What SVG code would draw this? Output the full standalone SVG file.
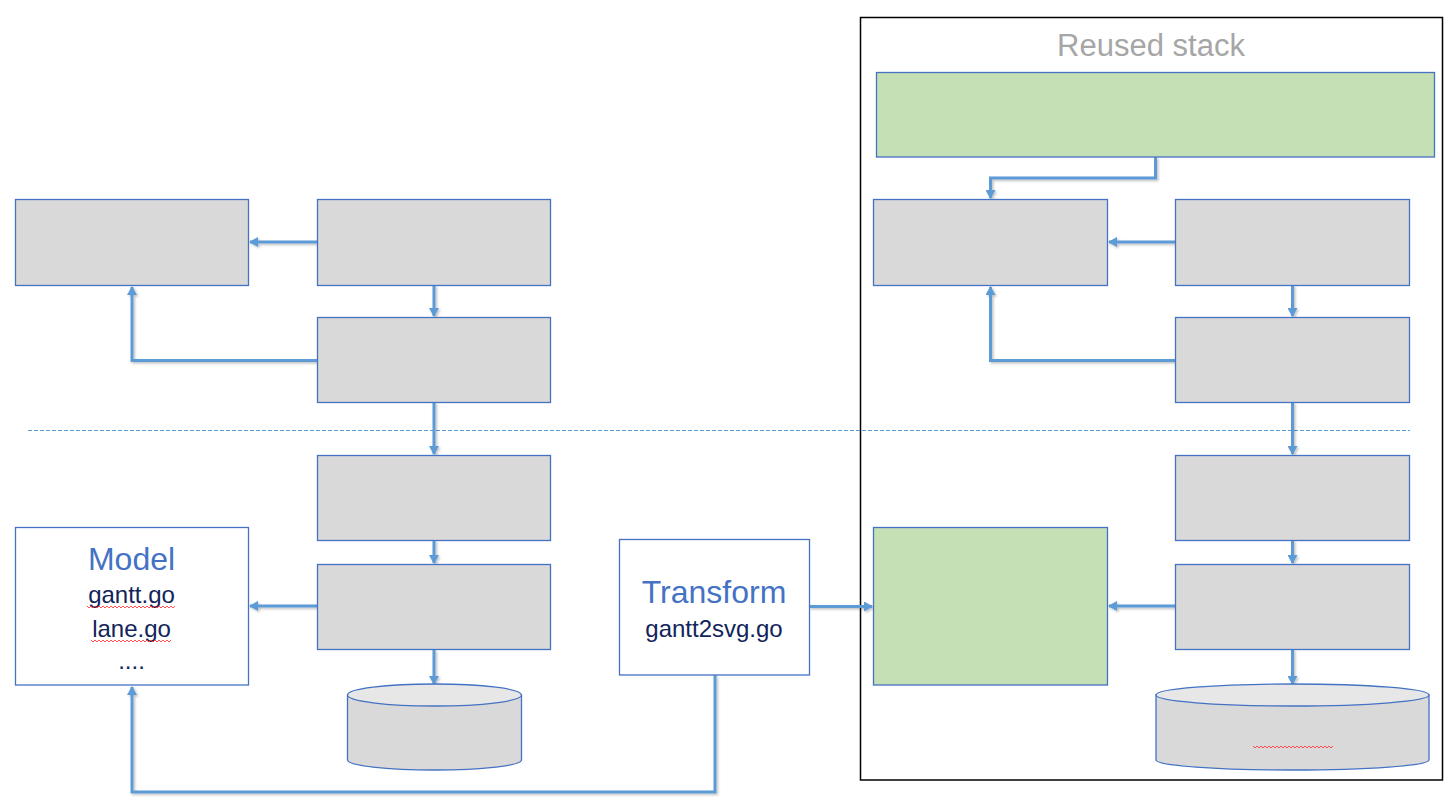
<svg xmlns="http://www.w3.org/2000/svg" width="1452" height="801" viewBox="0 0 1452 801">
<defs>
<style>
.box{fill:#d9d9d9;stroke:#4472c4;stroke-width:1.3}
.green{fill:#c5e0b4;stroke:#4472c4;stroke-width:1.3}
.white{fill:#ffffff;stroke:#4472c4;stroke-width:1.3}
.conn{fill:none;stroke:#5b9bd5;stroke-width:3;marker-end:url(#ah)}
.line{fill:none;stroke:#5b9bd5;stroke-width:3}
.title{font-family:"Liberation Sans",Arial,sans-serif;fill:#4472c4;text-anchor:middle}
.file{font-family:"Liberation Sans",Arial,sans-serif;fill:#12245a;text-anchor:middle;font-size:24px}
.squig{fill:none;stroke:#ff3b3b;stroke-width:0.9}
</style>
<marker id="ah" markerWidth="10" markerHeight="10" refX="8" refY="5" orient="auto" markerUnits="userSpaceOnUse">
<path d="M0,0 L9,5 L0,10 Z" fill="#5b9bd5"/>
</marker>
<filter id="sh" x="-5%" y="-5%" width="110%" height="110%">
<feDropShadow dx="1.5" dy="1.5" stdDeviation="1.2" flood-color="#000" flood-opacity="0.25"/>
</filter>
</defs>
<rect width="1452" height="801" fill="#ffffff"/>

<g id="reused-frame">
<rect x="860.5" y="17.5" width="582" height="762.5" fill="none" stroke="#000" stroke-width="1.5"/>
<text x="1151" y="56" font-family="Liberation Sans,Arial,sans-serif" font-size="31" fill="#a6a6a6" text-anchor="middle">Reused stack</text>
</g>

<line x1="28" y1="430.5" x2="1410" y2="430.5" stroke="#5b9bd5" stroke-width="1" stroke-dasharray="4 2"/>

<g id="connectors" filter="url(#sh)">
<path class="conn" d="M317,242 L250,242"/>
<path class="conn" d="M434,285 L434,316"/>
<path class="conn" d="M317,360.5 L132,360.5 L132,287"/>
<path class="conn" d="M434,402 L434,454"/>
<path class="conn" d="M434,540 L434,563"/>
<path class="conn" d="M317,606 L250,606"/>
<path class="conn" d="M434,650 L434,684"/>
<path class="conn" d="M715,675 L715,792 L132,792 L132,687"/>
<path class="conn" d="M809,606.5 L872,606.5"/>
<path class="conn" d="M1155.5,157 L1155.5,178 L990.5,178 L990.5,198"/>
<path class="conn" d="M1175,242 L1109,242"/>
<path class="conn" d="M1292.5,285 L1292.5,316"/>
<path class="conn" d="M1175,360.5 L990.5,360.5 L990.5,287"/>
<path class="conn" d="M1292.5,402 L1292.5,454"/>
<path class="conn" d="M1292.5,540 L1292.5,563"/>
<path class="conn" d="M1175,606 L1109,606"/>
<path class="conn" d="M1292.5,649 L1292.5,684"/>
</g>

<g id="left-a"><rect class="box" x="15.5" y="199.5" width="233" height="86"/></g>
<g id="left-b"><rect class="box" x="317.5" y="199.5" width="233" height="86"/></g>
<g id="left-c"><rect class="box" x="317.5" y="317.5" width="233" height="85"/></g>
<g id="left-d"><rect class="box" x="317.5" y="455.5" width="233" height="85"/></g>
<g id="left-e"><rect class="box" x="317.5" y="564.5" width="233" height="85"/></g>

<g id="left-db">
<path d="M347.5,695 L347.5,760 A87,10 0 0 0 521.5,760 L521.5,695 Z" fill="#d9d9d9" stroke="#4472c4" stroke-width="1.3"/>
<ellipse cx="434.5" cy="695" rx="87" ry="11" fill="#e7e7e7" stroke="#4472c4" stroke-width="1.3"/>
</g>

<g id="model">
<rect class="white" x="15.5" y="527.5" width="233" height="157.5"/>
<text class="title" x="131.5" y="570" font-size="32">Model</text>
<text class="file" x="131.5" y="603">gantt.go</text>
<path class="squig" d="M87,606 l2,2 l2,-2 l2,2 l2,-2 l2,2 l2,-2 l2,2 l2,-2 l2,2 l2,-2 l2,2 l2,-2 l2,2 l2,-2 l2,2 l2,-2 l2,2 l2,-2 l2,2 l2,-2 l2,2 l2,-2 l2,2 l2,-2 l2,2 l2,-2 l2,2 l2,-2 l2,2 l2,-2 l2,2 l2,-2 l2,2 l2,-2 l2,2 l2,-2 l2,2 l2,-2 l2,2 l2,-2 l2,2 l2,-2 l2,2 l2,-2"/>
<text class="file" x="131.5" y="637">lane.go</text>
<path class="squig" d="M91,640 l2,2 l2,-2 l2,2 l2,-2 l2,2 l2,-2 l2,2 l2,-2 l2,2 l2,-2 l2,2 l2,-2 l2,2 l2,-2 l2,2 l2,-2 l2,2 l2,-2 l2,2 l2,-2 l2,2 l2,-2 l2,2 l2,-2 l2,2 l2,-2 l2,2 l2,-2 l2,2 l2,-2 l2,2 l2,-2 l2,2 l2,-2 l2,2 l2,-2 l2,2 l2,-2 l2,2 l2,-2"/>
<text class="file" x="131.5" y="669">....</text>
</g>

<g id="transform">
<rect class="white" x="619.5" y="539.5" width="190" height="135.5"/>
<text class="title" x="714" y="603" font-size="32">Transform</text>
<text class="file" x="714" y="637">gantt2svg.go</text>
</g>

<g id="right-top"><rect class="green" x="876.5" y="72.5" width="558" height="84.5"/></g>
<g id="right-f"><rect class="box" x="873.5" y="199.5" width="234" height="86"/></g>
<g id="right-g"><rect class="box" x="1175.5" y="199.5" width="234" height="86"/></g>
<g id="right-h"><rect class="box" x="1175.5" y="317.5" width="234" height="85"/></g>
<g id="right-i"><rect class="box" x="1175.5" y="455.5" width="234" height="85"/></g>
<g id="right-j"><rect class="box" x="1175.5" y="564.5" width="234" height="85"/></g>
<g id="right-k"><rect class="green" x="873.5" y="527.5" width="234" height="157.5"/></g>

<g id="right-db">
<path d="M1156,695 L1156,760 A136.5,10 0 0 0 1429,760 L1429,695 Z" fill="#d9d9d9" stroke="#4472c4" stroke-width="1.3"/>
<ellipse cx="1292.5" cy="695" rx="136.5" ry="11" fill="#e7e7e7" stroke="#4472c4" stroke-width="1.3"/>
<path class="squig" d="M1253,746 l2,2 l2,-2 l2,2 l2,-2 l2,2 l2,-2 l2,2 l2,-2 l2,2 l2,-2 l2,2 l2,-2 l2,2 l2,-2 l2,2 l2,-2 l2,2 l2,-2 l2,2 l2,-2 l2,2 l2,-2 l2,2 l2,-2 l2,2 l2,-2 l2,2 l2,-2 l2,2 l2,-2 l2,2 l2,-2 l2,2 l2,-2 l2,2 l2,-2 l2,2 l2,-2 l2,2 l2,-2"/>
</g>
</svg>
